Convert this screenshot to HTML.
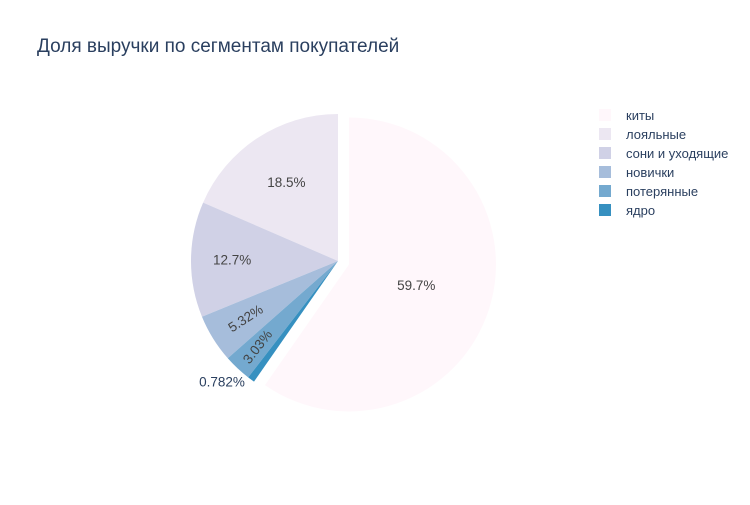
<!DOCTYPE html>
<html><head><meta charset="utf-8"><style>
body{margin:0;background:#fff}
svg{font-family:"Liberation Sans","DejaVu Sans",sans-serif}
</style></head><body>
<svg id="c" width="750" height="500">
<rect width="750" height="500" fill="#fff"/>
<text x="37" y="52" font-size="19" fill="#2a3f5f">Доля выручки по сегментам покупателей</text>
<g id="slices"></g><g id="labels"></g><g id="legend"></g>
</svg>
<script>
const categories=["киты","лояльные","сони и уходящие","новички","потерянные","ядро"];
const values=[59.7,18.5,12.7,5.32,3.03,0.782];
const labelsTxt=["59.7%","18.5%","12.7%","5.32%","3.03%","0.782%"];
const colors=["#fff7fb","#ece7f2","#d0d1e6","#a6bddb","#74a9cf","#3690c0"];
const NS="http://www.w3.org/2000/svg";
const cx=338,cy=261,R=147,pull=11.5;
const total=values.reduce((a,b)=>a+b,0);
const sg=document.getElementById('slices'),lg=document.getElementById('labels'),leg=document.getElementById('legend');
function pt(a,r,ox,oy){return [ox+r*Math.sin(a),oy-r*Math.cos(a)];}
const angs=[];
angs.push([0,values[0]/total*2*Math.PI]);
let cur=0;
for(let i=1;i<values.length;i++){const s=values[i]/total*2*Math.PI;angs.push([cur-s,cur]);cur-=s;}
const rf=[0.48,0.64,0.72,0.74,0.8,1.2];
values.forEach((v,i)=>{
  const [a0,a1]=angs[i];const mid=(a0+a1)/2;
  let ox=cx,oy=cy;
  if(i===0){ox=cx+pull*Math.sin(mid);oy=cy-pull*Math.cos(mid);}
  const p0=pt(a0,R,ox,oy),p1=pt(a1,R,ox,oy);
  const large=(a1-a0)>Math.PI?1:0;
  const path=document.createElementNS(NS,'path');
  path.setAttribute('d',`M${ox},${oy}L${p0[0]},${p0[1]}A${R},${R} 0 ${large} 1 ${p1[0]},${p1[1]}Z`);
  path.setAttribute('fill',colors[i]);
  
  
  sg.appendChild(path);
  const lp=pt(mid,R*rf[i],ox,oy);
  const t=document.createElementNS(NS,'text');
  let x=lp[0],y=lp[1];
  if(i===5){x=222;y=382;}
  t.setAttribute('x',x);t.setAttribute('y',y+4.5);
  t.setAttribute('text-anchor','middle');t.setAttribute('font-size','13.5');
  t.setAttribute('fill',i===5?'#2a3f5f':'#444');
  if(i===3)t.setAttribute('transform',`rotate(-33 ${x} ${y})`);
  if(i===4)t.setAttribute('transform',`rotate(-52 ${x} ${y})`);
  t.textContent=labelsTxt[i];
  
  
  lg.appendChild(t);
  const r=document.createElementNS(NS,'rect');
  r.setAttribute('x',599);r.setAttribute('y',109+i*19);r.setAttribute('width',12);r.setAttribute('height',12);
  r.setAttribute('fill',colors[i]);
  
  
  leg.appendChild(r);
  const lt=document.createElementNS(NS,'text');
  lt.setAttribute('x',626);lt.setAttribute('y',120+i*19);lt.setAttribute('font-size','13');lt.setAttribute('fill','#2a3f5f');
  lt.textContent=categories[i];
  
  
  leg.appendChild(lt);
});
</script>
</body></html>
